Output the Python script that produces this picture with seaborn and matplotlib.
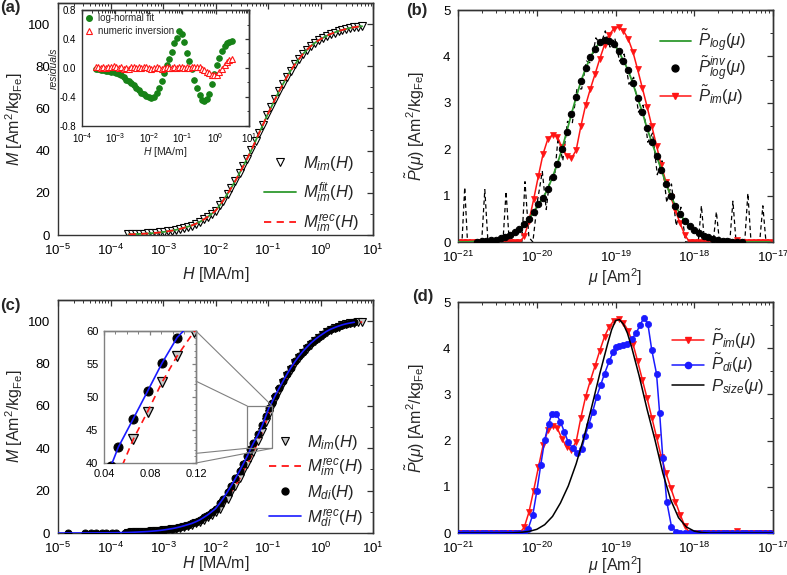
import numpy as np
import matplotlib
matplotlib.use("Agg")
import matplotlib.pyplot as plt
import seaborn as sns
from matplotlib.lines import Line2D
from matplotlib.patches import Rectangle, ConnectionPatch
from matplotlib.ticker import LogLocator, MultipleLocator, NullFormatter

# ---- panel (a): field grid [MA/m] and magnetisation [Am2/kgFe]
h_a = [0.00022, 0.00026, 0.00031, 0.00037, 0.00044, 0.00052, 0.00062, 0.00074, 0.00088, 0.00105,
       0.00125, 0.0015, 0.0018, 0.0021, 0.0025, 0.0030, 0.0035, 0.0042, 0.0050, 0.0060,
       0.0071, 0.0085, 0.010, 0.012, 0.014, 0.017, 0.020, 0.024, 0.029, 0.034,
       0.040, 0.048, 0.058, 0.068, 0.080, 0.097, 0.115, 0.137, 0.163, 0.194,
       0.23, 0.27, 0.33, 0.39, 0.46, 0.55, 0.65, 0.78, 0.92, 1.1,
       1.3, 1.55, 1.85, 2.2, 2.6, 3.1, 3.7, 4.4, 5.2, 6.2]
m_im_a = [0.28, 0.35, 0.44, 0.53, 0.62, 0.73, 0.88, 1.03, 1.23, 1.48,
          1.78, 2.1, 2.5, 2.9, 3.4, 4.0, 4.5, 5.3, 6.2, 7.4,
          8.6, 10.1, 11.5, 14.0, 16.3, 19.6, 22.4, 25.8, 29.5, 32.8,
          36.2, 40.1, 44.6, 48.5, 52.2, 56.9, 60.6, 64.5, 68.2, 71.7,
          75.0, 77.9, 81.1, 83.5, 85.7, 87.8, 89.5, 91.1, 92.3, 93.4,
          94.4, 95.3, 96.0, 96.7, 97.2, 97.7, 98.2, 98.5, 98.8, 99.0]

# inset residuals, on h_a[1:56]
res_fit = [-0.02, -0.02, -0.03, -0.03, -0.04, -0.04, -0.05, -0.06, -0.07, -0.08,
           -0.10, -0.13, -0.16, -0.18, -0.21, -0.24, -0.27, -0.31, -0.34, -0.36,
           -0.38, -0.40, -0.42, -0.40, -0.35, -0.28, -0.18, -0.07, 0.04, 0.12,
           0.22, 0.34, 0.42, 0.51, 0.47, 0.36, 0.21, 0.10, -0.02, -0.16,
           -0.27, -0.37, -0.44, -0.46, -0.43, -0.36, -0.22, -0.08, 0.04, 0.14,
           0.23, 0.30, 0.34, 0.36, 0.37]
res_num = [0.02, 0.01, 0.0, 0.01, 0.0, 0.02, 0.01, 0.03, 0.02, 0.0,
           0.01, -0.01, 0.0, -0.01, 0.01, 0.02, 0.0, 0.01, 0.0, 0.02,
           0.01, 0.0, -0.01, 0.0, 0.01, 0.0, -0.01, 0.0, 0.01, 0.0,
           0.0, 0.01, 0.0, 0.02, 0.01, 0.0, 0.01, 0.0, 0.02, 0.02,
           0.02, 0.01, -0.01, -0.03, -0.05, -0.07, -0.09, -0.10, -0.09, -0.06,
           -0.01, 0.04, 0.08, 0.11, 0.12]

# ---- panel (c)
h_c = [0.00022, 0.00026, 0.00031, 0.00037, 0.00044, 0.00052, 0.00062, 0.00074, 0.00088, 0.00105,
       0.00125, 0.0015, 0.0018, 0.0021, 0.0025, 0.0030, 0.0035, 0.0042, 0.0050, 0.0060,
       0.0071, 0.0085, 0.010, 0.012, 0.014, 0.017, 0.020, 0.024, 0.029, 0.034,
       0.040, 0.046, 0.0525, 0.0655, 0.078, 0.0904, 0.1036, 0.118, 0.137, 0.163,
       0.194, 0.23, 0.27, 0.33, 0.39, 0.46, 0.55, 0.65, 0.78, 0.92,
       1.1, 1.3, 1.55, 1.85, 2.2, 2.6, 3.1, 3.7, 4.4, 5.2, 6.2]
m_im_c = [0.24, 0.28, 0.35, 0.44, 0.53, 0.62, 0.73, 0.88, 1.03, 1.23,
          1.48, 1.78, 2.1, 2.5, 2.9, 3.4, 4.0, 4.5, 5.3, 6.2,
          7.4, 8.6, 10.1, 11.5, 14.0, 16.3, 19.6, 22.4, 25.8, 29.5,
          32.6, 35.3, 38.2, 43.6, 47.8, 52.2, 56.2, 59.8, 63.4, 67.0,
          70.6, 73.9, 76.8, 80.1, 82.6, 84.9, 87.1, 89.0, 90.8, 92.3,
          93.7, 94.9, 95.9, 96.8, 97.5, 98.1, 98.6, 99.0, 99.3, 99.5, 99.6]
h_di_low = [1.55e-5, 3.2e-5, 4.3e-5, 5.4e-5, 6.8e-5, 8.3e-5, 1.05e-4, 1.3e-4, 1.86e-4]
m_di_low = [0.02, 0.04, 0.05, 0.07, 0.09, 0.11, 0.13, 0.17, 0.24]
m_di_c = [0.28, 0.35, 0.44, 0.53, 0.62, 0.73, 0.88, 1.03, 1.23, 1.48,
          1.78, 2.1, 2.5, 2.9, 3.4, 4.0, 4.5, 5.3, 6.2, 7.4,
          8.6, 10.1, 11.5, 14.0, 16.3, 19.6, 22.4, 25.8, 29.5, 32.8,
          36.2, 39.5, 42.4, 46.7, 50.9, 55.1, 59.0, 61.6, 64.9, 68.4,
          71.8, 75.0, 77.9, 81.1, 83.5, 85.7, 87.8, 89.6, 91.3, 92.7,
          94.0, 95.2, 96.2, 97.0, 97.7, 98.3, 98.8, 99.2, 99.5]

# ---- panels (b), (d): log10(mu / Am2) grid and distributions
log_mu = [-21.00, -20.94, -20.88, -20.82, -20.76, -20.70, -20.64, -20.58, -20.52, -20.46,
          -20.40, -20.34, -20.28, -20.22, -20.16, -20.10, -20.04, -19.98, -19.92, -19.86,
          -19.80, -19.74, -19.68, -19.62, -19.56, -19.50, -19.44, -19.38, -19.32, -19.26,
          -19.20, -19.14, -19.08, -19.02, -18.96, -18.90, -18.84, -18.78, -18.72, -18.66,
          -18.60, -18.54, -18.48, -18.42, -18.36, -18.30, -18.24, -18.18, -18.12, -18.06,
          -18.00, -17.94, -17.88, -17.82, -17.76, -17.70, -17.64, -17.58, -17.52, -17.46,
          -17.40, -17.34, -17.28, -17.22, -17.16, -17.10, -17.04]
p_log = [0.00, 0.00, 0.00, 0.01, 0.01, 0.02, 0.02, 0.04, 0.05, 0.08,
         0.11, 0.15, 0.21, 0.28, 0.38, 0.50, 0.64, 0.82, 0.95, 1.15,
         1.40, 1.68, 2.00, 2.38, 2.76, 3.12, 3.46, 3.74, 3.98, 4.17,
         4.30, 4.36, 4.34, 4.26, 4.11, 3.91, 3.70, 3.42, 3.10, 2.80,
         2.45, 2.15, 1.86, 1.56, 1.26, 1.00, 0.78, 0.60, 0.45, 0.34,
         0.26, 0.19, 0.13, 0.10, 0.07, 0.05, 0.03, 0.02, 0.01, 0.01,
         0.00, 0.00, 0.00, 0.00, 0.00, 0.00, 0.00]
p_im = [0.00, 0.00, 0.00, 0.00, 0.00, 0.00, 0.00, 0.00, 0.00, 0.00,
        0.00, 0.00, 0.00, 0.00, 0.12, 0.45, 0.92, 1.42, 1.90, 2.22,
        2.31, 2.27, 2.04, 1.86, 1.80, 1.98, 2.50, 2.95, 3.30, 3.62,
        3.95, 4.25, 4.47, 4.60, 4.63, 4.55, 4.38, 4.10, 3.72, 3.32,
        2.92, 2.50, 2.08, 1.65, 1.30, 0.98, 0.68, 0.40, 0.15, 0.00,
        0.00, 0.00, 0.00, 0.00, 0.00, 0.00, 0.00, 0.00, 0.00, 0.05,
        0.00, 0.00, 0.00, 0.00, 0.00, 0.00, 0.00]
log_mu_di = [-21.00, -20.94, -20.88, -20.82, -20.76, -20.70, -20.64, -20.58, -20.52, -20.46,
             -20.40, -20.34, -20.28, -20.22, -20.16,
             -20.11, -20.05, -20.00, -19.95, -19.90, -19.85, -19.81, -19.75, -19.70, -19.65,
             -19.60, -19.54, -19.49, -19.43, -19.39, -19.34, -19.29, -19.24, -19.19, -19.14,
             -19.08, -19.03, -18.99, -18.95, -18.91, -18.85, -18.79, -18.74, -18.69, -18.64,
             -18.59, -18.54, -18.48, -18.44, -18.40, -18.35, -18.29, -18.23,
             -18.18, -18.12, -18.06, -18.00, -17.94, -17.88, -17.82, -17.76, -17.70, -17.64,
             -17.58, -17.52, -17.46, -17.40, -17.34, -17.28, -17.22, -17.16, -17.10, -17.04]
p_di = [0.00, 0.00, 0.00, 0.00, 0.00, 0.00, 0.00, 0.00, 0.00, 0.00,
        0.00, 0.00, 0.00, 0.00, 0.00,
        0.09, 0.40, 0.90, 1.47, 2.01, 2.37, 2.57, 2.57, 2.41, 2.19,
        1.96, 1.83, 1.73, 1.81, 2.09, 2.34, 2.63, 2.95, 3.20, 3.45,
        3.72, 3.92, 4.03, 4.05, 4.06, 4.10, 4.21, 4.32, 4.50, 4.66,
        4.53, 3.96, 3.45, 2.59, 1.62, 0.68, 0.14, 0.02,
        0.00, 0.00, 0.00, 0.00, 0.00, 0.00, 0.00, 0.00, 0.00, 0.00,
        0.00, 0.00, 0.00, 0.00, 0.00, 0.00, 0.00, 0.00, 0.00, 0.00]
log_mu_size = [-21.0, -20.5, -20.3, -20.2, -20.1, -20.0, -19.9, -19.8, -19.7, -19.6,
               -19.5, -19.4, -19.3, -19.2, -19.1, -19.05, -19.0, -18.95, -18.9, -18.85,
               -18.8, -18.7, -18.6, -18.5, -18.4, -18.3, -18.2, -18.1, -18.0, -17.9,
               -17.8, -17.0]
p_size = [0.0, 0.0, 0.005, 0.015, 0.035, 0.08, 0.18, 0.36, 0.65, 1.02,
          1.50, 2.08, 2.75, 3.45, 4.10, 4.40, 4.60, 4.62, 4.52, 4.33,
          4.05, 3.40, 2.68, 2.02, 1.30, 0.72, 0.33, 0.13, 0.04, 0.01,
          0.0, 0.0]
# unregularised inversion (dashed)
log_mu_dash = [-21.0, -20.95, -20.915, -20.88, -20.70, -20.66, -20.62, -20.43, -20.39, -20.35,
               -20.19, -20.15, -20.10, -20.05, -19.99, -19.93, -19.88, -19.83, -19.78, -19.73,
               -19.67, -19.61, -19.55, -19.49, -19.43, -19.37, -19.31, -19.25, -19.19, -19.13,
               -19.07, -19.01, -18.95, -18.89, -18.83, -18.77, -18.71, -18.65, -18.59, -18.53,
               -18.47, -18.41, -18.35, -18.29, -18.23, -18.17, -18.11, -17.95, -17.91, -17.87,
               -17.76, -17.72, -17.68, -17.55, -17.51, -17.47, -17.36, -17.32, -17.28, -17.17,
               -17.13, -17.09, -17.0]
p_dash = [0.0, 0.0, 1.18, 0.0, 0.0, 1.13, 0.0, 0.0, 1.09, 0.0,
          0.0, 1.30, 0.10, 0.0, 0.90, 1.52, 0.70, 1.45, 1.30, 2.25,
          1.75, 2.60, 2.55, 3.30, 3.30, 3.90, 3.85, 4.40, 4.25, 4.55,
          4.20, 4.40, 3.90, 4.05, 3.40, 3.55, 2.80, 2.95, 2.15, 2.35,
          1.45, 1.75, 0.85, 1.25, 0.35, 0.75, 0.0, 0.0, 0.78, 0.0,
          0.0, 0.65, 0.0, 0.0, 0.88, 0.0, 0.0, 1.05, 0.0, 0.0,
          0.78, 0.0, 0.0]

GREEN = "#2f9a2f"
GREEN_DOT = "#178217"
RED = "#ff1515"
BLUE = "#1a1aff"
EDGE = "#333333"

sns.set_theme(style="white")
plt.rcParams["font.family"] = ["Liberation Sans", "DejaVu Sans"]
plt.rcParams["mathtext.fontset"] = "custom"
plt.rcParams["mathtext.rm"] = "Liberation Sans"
plt.rcParams["mathtext.it"] = "Liberation Sans:italic"
plt.rcParams["mathtext.bf"] = "Liberation Sans:bold"


def style(ax, logx, ymaj, ymin, xmaj=None, xmin=None, lsize=9.5, edge=EDGE, big=4.5, small=2.5):
    if logx:
        ax.set_xscale("log")
    for sp in ax.spines.values():
        sp.set_linewidth(1.0)
        sp.set_color(edge)
    ax.tick_params(which="both", direction="out", color=edge, labelsize=lsize, pad=1,
                   labelcolor="black")
    ax.tick_params(which="major", length=big, width=0.9)
    ax.tick_params(which="minor", length=small, width=0.7)
    top = ax.secondary_xaxis("top")
    right = ax.secondary_yaxis("right")
    for a in (ax.xaxis, top.xaxis):
        if logx:
            a.set_major_locator(LogLocator(10, numticks=30))
            a.set_minor_locator(LogLocator(10, subs=np.arange(2, 10), numticks=200))
        else:
            a.set_major_locator(MultipleLocator(xmaj))
            a.set_minor_locator(MultipleLocator(xmin))
        a.set_minor_formatter(NullFormatter())
    for a in (ax.yaxis, right.yaxis):
        a.set_major_locator(MultipleLocator(ymaj))
        a.set_minor_locator(MultipleLocator(ymin))
    for sec in (top, right):
        for sp in sec.spines.values():
            sp.set_linewidth(1.0)
            sp.set_color(edge)
        sec.tick_params(which="both", direction="in", color=edge)
        sec.tick_params(which="major", length=big, width=0.9)
        sec.tick_params(which="minor", length=small, width=0.7)
    top.xaxis.set_major_formatter(NullFormatter())
    right.yaxis.set_major_formatter(NullFormatter())


def line(ax, x, y, **kw):
    sns.lineplot(x=x, y=y, ax=ax, sort=False, estimator=None, **kw)


fig = plt.figure(figsize=(7.87, 5.75), dpi=100)
ax_a = fig.add_axes([0.0737, 0.5913, 0.4003, 0.4035])
ax_b = fig.add_axes([0.5820, 0.5791, 0.4003, 0.4035])
ax_c = fig.add_axes([0.0737, 0.0730, 0.4003, 0.4052])
ax_d = fig.add_axes([0.5820, 0.0730, 0.4003, 0.4017])

mlabel = "$M$ [Am$^2$/kg$_{\\rm Fe}$]"
plabel = "$\\tilde{P}(\\mu)$ [Am$^2$/kg$_{\\rm Fe}$]"
leg_kw = dict(loc="upper left", frameon=False, fontsize=12, handlelength=1.9,
              handletextpad=0.4, borderaxespad=0, borderpad=0)

# ---------------- (a)
style(ax_a, True, 20, 10)
line(ax_a, h_a, m_im_a, ls="none", marker="v", ms=6, mfc="white", mec="black", mew=0.8, zorder=2)
line(ax_a, h_a, m_im_a, color=GREEN, lw=1.3, zorder=3)
line(ax_a, h_a, m_im_a, color=RED, lw=1.3, ls=(0, (4, 3)), zorder=4)
ax_a.set_xlim(1e-5, 10)
ax_a.set_ylim(0, 110)
ax_a.set_xlabel("$H$ [MA/m]", fontsize=11.5, labelpad=5)
ax_a.set_ylabel(mlabel, fontsize=11.5)
ax_a.yaxis.set_label_coords(-0.105, 0.5)
ax_a.legend([Line2D([], [], ls="none", marker="v", ms=6, mfc="white", mec="black", mew=0.8),
             Line2D([], [], color=GREEN, lw=1.3),
             Line2D([], [], color=RED, lw=1.3, ls=(0, (4, 3)))],
            ["$M_{im}(H)$", "$M_{im}^{fit}(H)$", "$M_{im}^{rec}(H)$"],
            bbox_to_anchor=(0.655, 0.35), labelspacing=0.45, **leg_kw)

ax_ai = fig.add_axes([0.1042, 0.7809, 0.2122, 0.2017])
style(ax_ai, True, 0.4, 0.2, lsize=7, big=3, small=1.8)
h_res = h_a[1:56]
line(ax_ai, h_res, res_fit, ls="none", marker="o", ms=4, color=GREEN_DOT, mec=GREEN_DOT, zorder=3)
line(ax_ai, h_res, res_num, ls="none", marker="^", ms=4, mfc="white", mec=RED, mew=0.8, zorder=4)
ax_ai.set_xlim(1e-4, 10)
ax_ai.set_ylim(-0.8, 0.8)
ax_ai.set_yticks([-0.8, -0.4, 0.0, 0.4, 0.8])
ax_ai.set_yticklabels(["-0.8", "-0.4", "0.0", "0.4", "0.8"])
ax_ai.set_xlabel("$H$ [MA/m]", fontsize=7.5, labelpad=0)
ax_ai.set_ylabel("residuals", fontsize=7.5, style="italic", labelpad=0.5)
ax_ai.legend([Line2D([], [], ls="none", marker="o", ms=4, color=GREEN_DOT),
              Line2D([], [], ls="none", marker="^", ms=4, mfc="white", mec=RED, mew=0.8)],
             ["log-normal fit", "numeric inversion"], loc="upper left", frameon=False,
             fontsize=7, handlelength=0.8, handletextpad=0.5, labelspacing=0.35,
             borderaxespad=0.2, borderpad=0.1)

# ---------------- (b)
style(ax_b, True, 1, 0.5)
mu = 10.0 ** np.array(log_mu)
line(ax_b, 10.0 ** np.array(log_mu_dash), p_dash, color="black", lw=0.9, ls=(0, (3.5, 2.5)), zorder=1)
line(ax_b, mu, p_im, color=RED, lw=1.1, marker="v", ms=5, mfc=RED, mec=RED, mew=0.5, zorder=2)
line(ax_b, mu, p_log, color=GREEN, lw=1.3, zorder=3)
line(ax_b, mu[4:61], p_log[4:61], ls="none", marker="o", ms=4.6, color="black", mec="black", zorder=4)
ax_b.set_xlim(1e-21, 1e-17)
ax_b.set_ylim(0, 5)
ax_b.set_xlabel("$\\mu$ [Am$^2$]", fontsize=11.5, labelpad=1)
ax_b.set_ylabel(plabel, fontsize=11.5)
ax_b.yaxis.set_label_coords(-0.098, 0.5)
ax_b.legend([Line2D([], [], color=GREEN, lw=1.3),
             Line2D([], [], ls="none", marker="o", ms=5, color="black"),
             Line2D([], [], color=RED, lw=1.1, marker="v", ms=5, mfc=RED, mec=RED)],
            ["$\\tilde{P}_{log}(\\mu)$", "$\\tilde{P}_{log}^{inv}(\\mu)$", "$\\tilde{P}_{im}(\\mu)$"],
            bbox_to_anchor=(0.64, 0.925), labelspacing=0.02, **leg_kw)

# ---------------- (c)
style(ax_c, True, 20, 10)
h_di = h_di_low + h_c[:59]
m_di = m_di_low + m_di_c
line(ax_c, h_c, m_im_c, ls="none", marker="v", ms=5.5, mfc="#c8c8c8", mec="black", mew=0.8, zorder=2)
line(ax_c, h_c, m_im_c, color=RED, lw=1.3, ls=(0, (4, 3)), zorder=3)
line(ax_c, h_di, m_di, ls="none", marker="o", ms=5, color="black", mec="black", zorder=4)
line(ax_c, [1e-5] + h_di, [0.0] + m_di, color=BLUE, lw=1.2, zorder=5)
ax_c.set_xlim(1e-5, 10)
ax_c.set_ylim(0, 110)
ax_c.set_xlabel("$H$ [MA/m]", fontsize=11.5, labelpad=-1)
ax_c.set_ylabel(mlabel, fontsize=11.5)
ax_c.yaxis.set_label_coords(-0.105, 0.5)
ax_c.add_patch(Rectangle((0.04, 40), 0.08, 20, fill=False, ec="#808080", lw=0.9, zorder=6))
ax_c.legend([Line2D([], [], ls="none", marker="v", ms=5.5, mfc="#c8c8c8", mec="black", mew=0.8),
             Line2D([], [], color=RED, lw=1.3, ls=(0, (4, 3))),
             Line2D([], [], ls="none", marker="o", ms=5, color="black"),
             Line2D([], [], color=BLUE, lw=1.2)],
            ["$M_{im}(H)$", "$M_{im}^{rec}(H)$", "$M_{di}(H)$", "$M_{di}^{rec}(H)$"],
            bbox_to_anchor=(0.67, 0.43), labelspacing=0.28, **leg_kw)

ax_ci = fig.add_axes([0.1321, 0.1948, 0.1169, 0.2296])
style(ax_ci, False, 5, 1, xmaj=0.04, xmin=0.01, lsize=8, edge="#808080", big=3, small=1.8)
line(ax_ci, h_c, m_im_c, ls="none", marker="v", ms=7, mfc="#c8c8c8", mec="black", mew=0.9, zorder=2)
line(ax_ci, h_c, m_im_c, color=RED, lw=1.2, ls=(0, (4, 3)), zorder=3)
line(ax_ci, h_di, m_di, ls="none", marker="o", ms=6.5, color="black", mec="black", zorder=4)
line(ax_ci, h_di, m_di, color=BLUE, lw=1.2, zorder=5)
ax_ci.set_xlim(0.04, 0.12)
ax_ci.set_ylim(40, 60)
ax_ci.set_xticks([0.04, 0.08, 0.12])
ax_ci.set_xticklabels(["0.04", "0.08", "0.12"])
for (fa, xb, yb) in [((1, 1), 0.12, 60), ((1, 0.62), 0.04, 60), ((1, 0.073), 0.04, 40), ((1, 0), 0.12, 40)]:
    con = ConnectionPatch(xyA=fa, coordsA=ax_ci.transAxes, xyB=(xb, yb), coordsB=ax_c.transData,
                          color="#808080", lw=0.8)
    fig.add_artist(con)

# ---------------- (d)
style(ax_d, True, 1, 0.5)
line(ax_d, mu, p_im, color=RED, lw=1.1, marker="v", ms=5, mfc=RED, mec=RED, mew=0.5, zorder=2)
line(ax_d, 10.0 ** np.array(log_mu_di), p_di, color=BLUE, lw=1.1, marker="o", ms=4.5,
     mfc=BLUE, mec=BLUE, mew=0.5, zorder=3)
line(ax_d, 10.0 ** np.array(log_mu_size), p_size, color="black", lw=1.1, zorder=4)
ax_d.set_xlim(1e-21, 1e-17)
ax_d.set_ylim(0, 5)
ax_d.set_xlabel("$\\mu$ [Am$^2$]", fontsize=11.5, labelpad=-1)
ax_d.set_ylabel(plabel, fontsize=11.5)
ax_d.yaxis.set_label_coords(-0.098, 0.5)
ax_d.legend([Line2D([], [], color=RED, lw=1.1, marker="v", ms=5, mfc=RED, mec=RED),
             Line2D([], [], color=BLUE, lw=1.1, marker="o", ms=4.5, mfc=BLUE, mec=BLUE),
             Line2D([], [], color="black", lw=1.1)],
            ["$\\tilde{P}_{im}(\\mu)$", "$\\tilde{P}_{di}(\\mu)$", "$P_{size}(\\mu)$"],
            bbox_to_anchor=(0.68, 0.89), labelspacing=0.1, **leg_kw)

for txt, x, y in [("(a)", 0.0, 0.987), ("(b)", 0.516, 0.981), ("(c)", 0.0, 0.468), ("(d)", 0.524, 0.484)]:
    fig.text(x, y, txt, fontsize=12, fontweight="bold", va="center", ha="left")

fig.savefig("out.png", dpi=100)
